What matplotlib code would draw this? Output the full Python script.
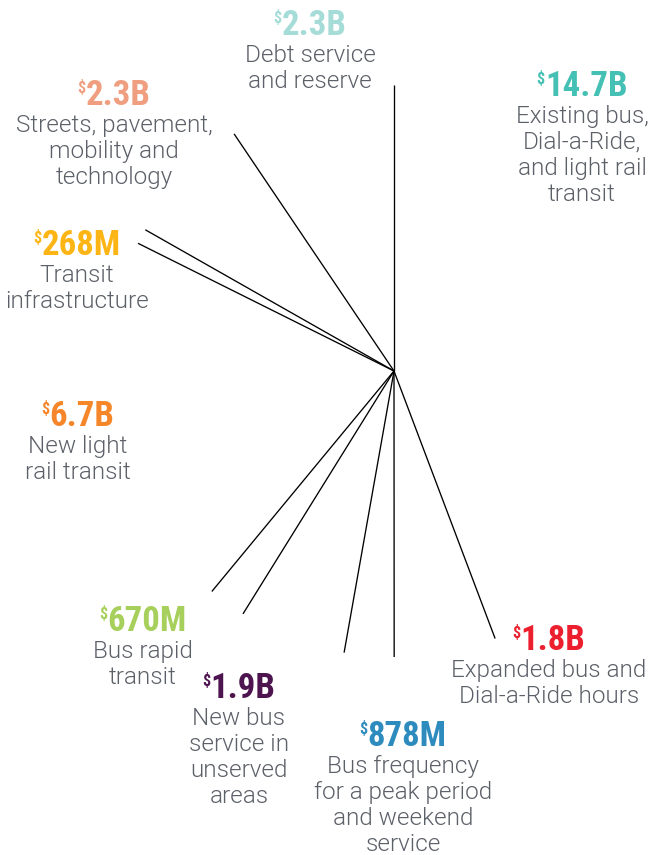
import numpy as np
import matplotlib
matplotlib.use("Agg")
import matplotlib.pyplot as plt
import matplotlib.font_manager as fm

# ---- data (counter-clockwise from 12 o'clock) ----
categories = [
    "Debt service\nand reserve",
    "Streets, pavement,\nmobility and\ntechnology",
    "Transit\ninfrastructure",
    "New light\nrail transit",
    "Bus rapid\ntransit",
    "New bus\nservice in\nunserved\nareas",
    "Bus frequency\nfor a peak period\nand weekend\nservice",
    "Expanded bus and\nDial-a-Ride hours",
    "Existing bus,\nDial-a-Ride,\nand light rail\ntransit",
]
# wedge sizes as drawn (billions)
wedge_values = [2.96, 2.3, 0.268, 6.7, 0.67, 1.9, 0.878, 1.8, 13.87]
amount_labels = ["2.3B", "2.3B", "268M", "6.7B", "670M", "1.9B", "878M", "1.8B", "14.7B"]
colors = ["#a6dcd8", "#ef9e80", "#fdb515", "#f6862a", "#a6d05b",
          "#4d1450", "#2e8bbd", "#ec1f2e", "#45c0b4"]

# ---- layout (pixel coords: label block centre x, amount baseline y) ----
label_pos = [(310, 35), (114, 105), (77, 255), (78, 426), (143, 631),
             (239, 698), (403, 746), (549, 650), (582, 96)]
center = (394, 371)
radius = 286

fl = fm.fontManager.ttflist


def has(name, weights):
    return any(f.name == name and f.weight in weights for f in fl)


num_family = ["DejaVu Sans"]
for fam in ["Roboto Condensed", "Fira Sans Condensed", "IBM Plex Sans Condensed",
            "Barlow Condensed", "Asap Condensed", "Archivo Narrow"]:
    if has(fam, (700, "bold")):
        num_family = [fam, "DejaVu Sans"]
        break

desc_family = ["DejaVu Sans"]
desc_weight = "normal"
for fam in ["Roboto", "Lato", "Open Sans"]:
    if has(fam, (300, "light")):
        desc_family = [fam, "DejaVu Sans"]
        desc_weight = 300
        break

W, H = 651, 855
fig = plt.figure(figsize=(W / 100, H / 100), dpi=100)
ax = fig.add_axes([0, 0, 1, 1])
ax.set_xlim(0, W)
ax.set_ylim(H, 0)
ax.axis("off")

# radial wedge boundaries
vals = np.array(wedge_values, dtype=float)
bounds = 90 + np.concatenate([[0], np.cumsum(vals)[:-1]]) / vals.sum() * 360
for a in bounds:
    t = np.deg2rad(a)
    ax.plot([center[0], center[0] + radius * np.cos(t)],
            [center[1], center[1] - radius * np.sin(t)],
            color="black", lw=0.95, solid_capstyle="butt")

renderer = fig.canvas.get_renderer()
desc_color = "#5c6068"
for cat, amt, col, (cx, by) in zip(categories, amount_labels, colors, label_pos):
    num = ax.text(0, by, amt, fontsize=25, fontweight="bold", family=num_family,
                  color=col, ha="left", va="baseline")
    dol = ax.text(0, by - 12, "$", fontsize=11.5, fontweight="bold", family=num_family,
                  color=col, ha="left", va="baseline")
    wn = num.get_window_extent(renderer).width
    wd = dol.get_window_extent(renderer).width
    x0 = cx - (wn + wd) / 2
    dol.set_x(x0)
    num.set_x(x0 + wd)
    for i, line in enumerate(cat.split("\n")):
        ax.text(cx, by + 27 + i * 26.0, line, fontsize=17.5, family=desc_family,
                fontweight=desc_weight, color=desc_color, ha="center", va="baseline")

fig.savefig("out.png", dpi=100)
